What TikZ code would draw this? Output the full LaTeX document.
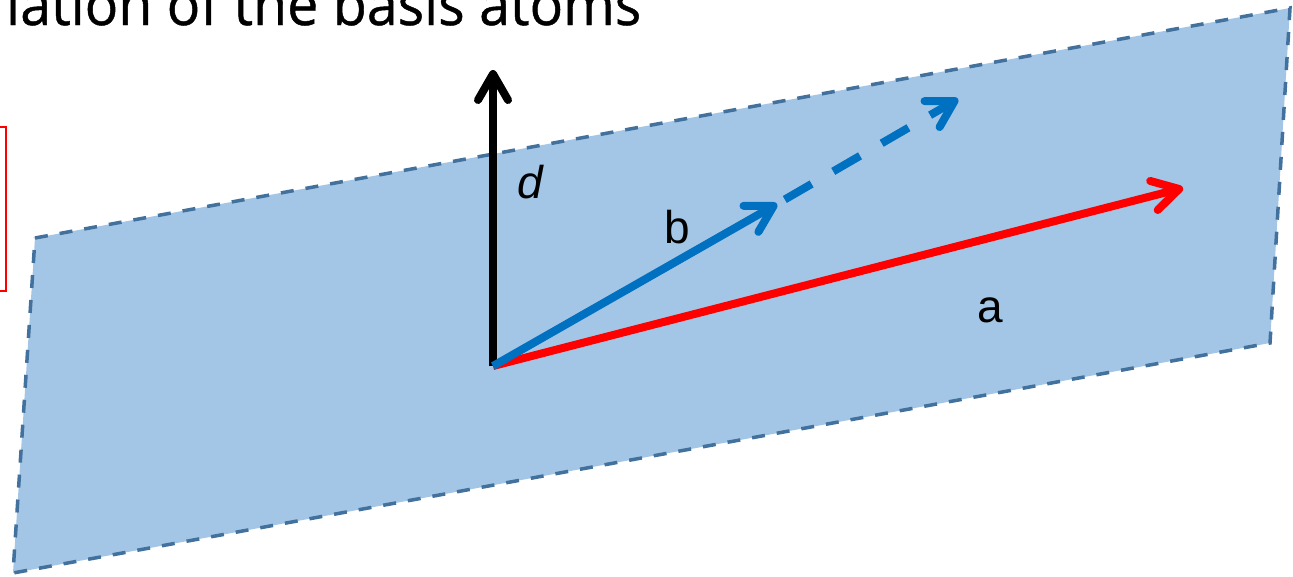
\documentclass[tikz,border=0pt]{standalone}
\usepackage{fontspec}
\setmainfont{Liberation Sans}
\newfontfamily\titlefont[FakeBold=0.8]{Open Sans}
\usetikzlibrary{arrows.meta}
\definecolor{planefill}{RGB}{164,198,230}
\definecolor{planeedge}{RGB}{65,113,156}
\definecolor{vecblue}{RGB}{0,112,192}
\definecolor{vecred}{RGB}{255,0,0}
\tikzset{
  plane/.style={fill=planefill, draw=planeedge, line width=3.5pt, dash pattern=on 13pt off 12pt},
  vec/.style={line width=8pt, -{Straight Barb[length=26pt,width=30pt,line cap=round,line join=round]}},
  lbl/.style={font=\fontsize{46}{50}\selectfont, anchor=base, inner sep=0pt},
}
\begin{document}
\begin{tikzpicture}[x=1pt,y=-1pt]
\useasboundingbox (0,0) rectangle (1293,576);
\clip (0,0) rectangle (1293,576);
\fill[white] (0,0) rectangle (1293,576);
% title (cut off at the top edge, as in the reference)
\node[anchor=base west, inner sep=0pt] (title) at (6,25) {\resizebox{635pt}{44pt}{\titlefont lation of the basis atoms}};
% red box (mostly out of frame)
\draw[vecred, line width=1.6pt] (-20,127) rectangle (6,291);
% plane
\draw[plane] (35,238) -- (1290,8) -- (1270,343) -- (13,573) -- cycle;
% vectors
\coordinate (O) at (493,366);
\coordinate (D) at (493,70);
\coordinate (B) at (777,204);
\coordinate (B2) at (958,99);
\coordinate (A) at (1183,188);
\draw[vec, black] (O) -- (D);
\draw[vec, vecblue, dash pattern=on 31pt off 25pt, dash phase=47pt] (B) -- (B2);
\draw[vec, vecred] (O) -- (A);
\draw[vec, vecblue] (O) -- (B);
% labels
\node[lbl] (dl) at (530,198) {\itshape d};
\node[lbl] (bl) at (677,243) {b};
\node[lbl] (al) at (990,322) {a};
\end{tikzpicture}
\end{document}
